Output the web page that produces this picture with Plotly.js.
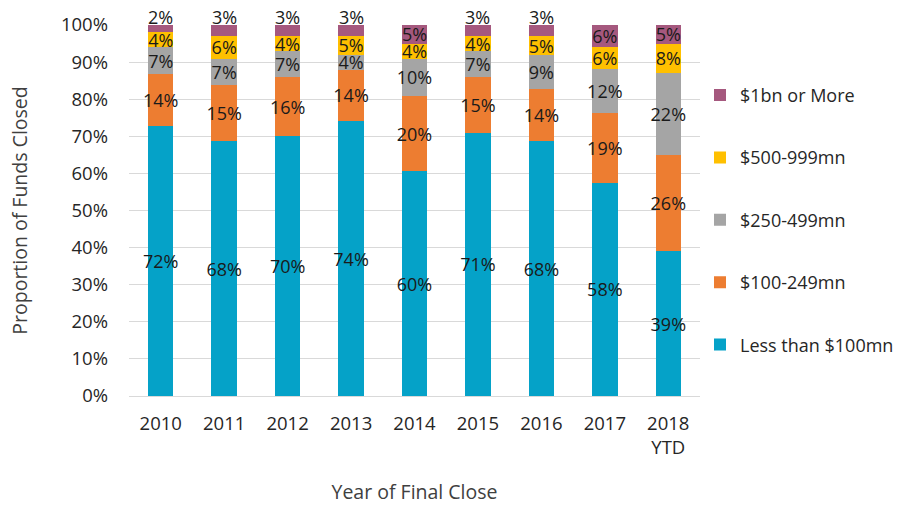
<!DOCTYPE html>
<html>
<head>
<meta charset="utf-8">
<script src="https://cdn.plot.ly/plotly-3.0.1.min.js"></script>
<style>html,body{margin:0;padding:0;background:#fff;}#chart{width:923px;height:505px;}</style>
</head>
<body>
<div id="chart"></div>
<script>
const years = ["2010", "2011", "2012", "2013", "2014", "2015", "2016", "2017", "2018<br>YTD"];
const seriesNames = ["Less than $100mn", "$100-249mn", "$250-499mn", "$500-999mn", "$1bn or More"];
const lessThan100 = [72, 68, 70, 74, 60, 71, 68, 58, 39];
const from100to249 = [14, 15, 16, 14, 20, 15, 14, 19, 26];
const from250to499 = [7, 7, 7, 4, 10, 7, 9, 12, 22];
const from500to999 = [4, 6, 4, 5, 4, 4, 5, 6, 8];
const over1bn = [2, 3, 3, 3, 5, 3, 3, 6, 5];
const colors = ["#05A2C8", "#ED7D31", "#A5A5A5", "#FFC000", "#A5587E"];

const allSeries = [lessThan100, from100to249, from250to499, from500to999, over1bn];
const labelFont = {family: "Open Sans", size: 18, color: "#1a1a1a"};
const nTop = allSeries.length - 1;
const traces = allSeries.map((vals, i) => {
  const isTop = i === nTop;
  return {
    type: "bar",
    name: seriesNames[i],
    x: years,
    y: vals,
    // small top segments get their label placed just above the bar (annotation below)
    text: vals.map(v => (isTop && v < 4) ? "" : v + "%"),
    textposition: "inside",
    insidetextanchor: "middle",
    textangle: 0,
    textfont: labelFont,
    insidetextfont: labelFont,
    marker: {color: colors[i]},
    legendgroup: "g" + i,
    legendrank: allSeries.length - i,
    hoverinfo: "x+name"
  };
});

// labels of the small top segments, sitting on top of the 100% stack
// (x given as category index so numeric-looking year strings are not read as numbers)
const annotations = [];
over1bn.forEach((v, j) => {
  if (v < 4) {
    annotations.push({
      x: j, y: 100, xref: "x", yref: "y",
      text: v + "%", showarrow: false,
      yanchor: "middle", yshift: 8,
      font: labelFont
    });
  }
});

const tickFont = {family: "Open Sans", size: 18.5, color: "#262626"};
const titleFont = {family: "Open Sans", size: 19.5, color: "#404040"};

const layout = {
  width: 923, height: 505,
  margin: {l: 129, r: 223, t: 25, b: 109},
  barmode: "stack",
  barnorm: "percent",
  bargap: 0.6,
  paper_bgcolor: "#fff",
  plot_bgcolor: "#fff",
  font: {family: "Open Sans", size: 18, color: "#262626"},
  uniformtext: {minsize: 18, mode: "show"},
  showlegend: true,
  annotations: annotations,
  legend: {
    x: 1.0, xanchor: "left", y: 0.475, yanchor: "middle",
    traceorder: "grouped",
    tracegroupgap: 36,
    font: {family: "Open Sans", size: 18, color: "#262626"}
  },
  xaxis: {
    type: "category",
    range: [-0.5, years.length - 0.5],
    showgrid: false,
    showline: true, linecolor: "#D9D9D9", linewidth: 1,
    ticks: "",
    ticklabelstandoff: 11,
    tickfont: tickFont,
    title: {text: "Year of Final Close", font: titleFont, standoff: 28}
  },
  yaxis: {
    range: [0, 100],
    dtick: 10,
    ticksuffix: "%",
    showgrid: true, gridcolor: "#D9D9D9", gridwidth: 1,
    zeroline: false,
    showline: false,
    ticks: "",
    ticklabelstandoff: 20,
    tickfont: tickFont,
    title: {text: "Proportion of Funds Closed", font: titleFont, standoff: 28}
  }
};

Plotly.newPlot("chart", traces, layout, {displayModeBar: false, staticPlot: true});
</script>
</body>
</html>
